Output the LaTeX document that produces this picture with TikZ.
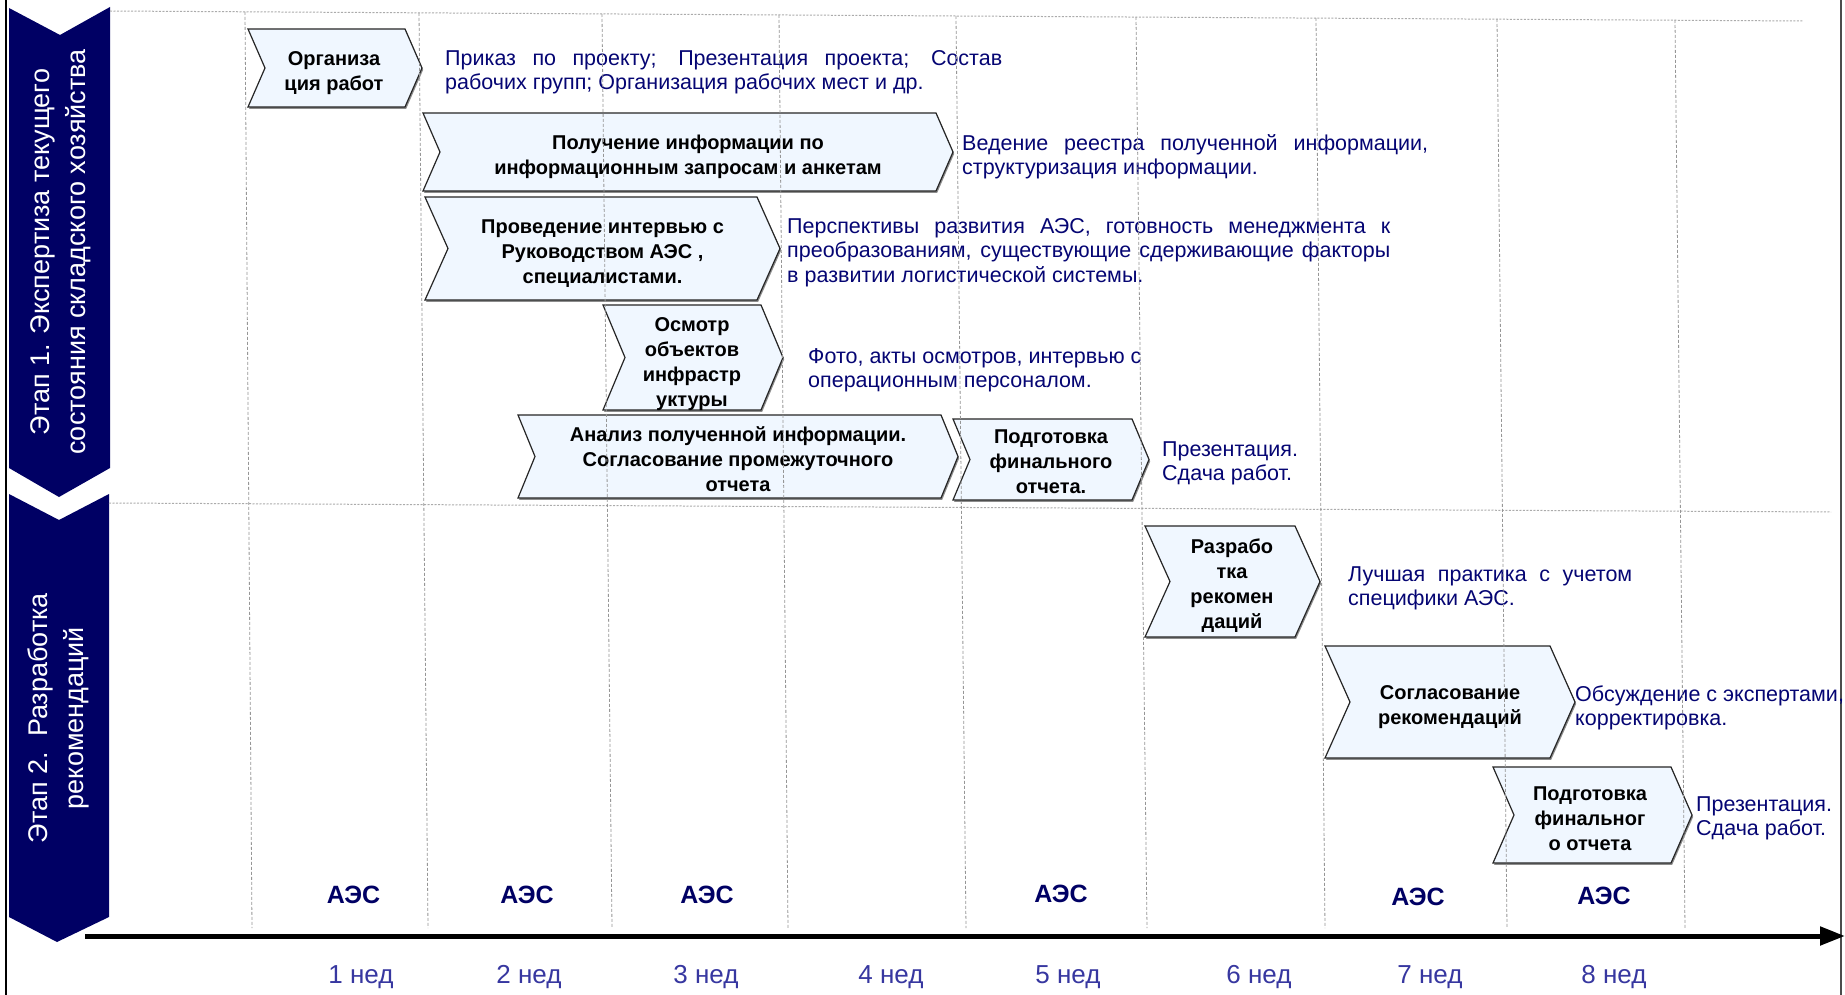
\documentclass[tikz,border=0pt]{standalone}
\usepackage{fontspec}
\setmainfont{Liberation Sans}
\usetikzlibrary{arrows.meta}
\definecolor{bannerblue}{RGB}{0,0,100}
\definecolor{desccol}{RGB}{5,5,115}
\definecolor{aescol}{RGB}{0,0,100}
\definecolor{weekcol}{RGB}{55,55,160}
\definecolor{boxfill}{RGB}{240,247,255}
\definecolor{gridcol}{RGB}{150,150,150}
\newcommand\chev[5]{% x1 x2 y1 y2 depth
  \fill[chevshadow] (#1,#3) -- (#2,#3) -- ({#2+#5},{(#3+#4)/2}) -- (#2,#4) -- (#1,#4) -- ({#1+#5},{(#3+#4)/2}) -- cycle;
  \draw[chev] (#1,#3) -- (#2,#3) -- ({#2+#5},{(#3+#4)/2}) -- (#2,#4) -- (#1,#4) -- ({#1+#5},{(#3+#4)/2}) -- cycle;}
\begin{document}
\begin{tikzpicture}[x=1pt,y=-1pt,
  chev/.style={draw=black!85, line width=1.2pt, fill=boxfill},
  chevshadow/.style={fill=black!45, shift={(1.2,1.8)}},
  boxtxt/.style={font=\fontsize{20}{25}\selectfont\bfseries, align=center, inner sep=0pt, anchor=north, text=black},
  desctxt/.style={font=\fontsize{21.5}{24.5}\selectfont, align=left, inner sep=0pt, anchor=north west, text=desccol},
  aes/.style={font=\fontsize{25}{28}\selectfont\bfseries, text=aescol, inner sep=0pt, anchor=base},
  week/.style={font=\fontsize{26}{30}\selectfont, text=weekcol, inner sep=0pt, anchor=base},
  gridv/.style={draw=gridcol, line width=0.8pt, dash pattern=on 3pt off 2pt},
  gridh/.style={draw=gridcol!80, line width=1pt, dash pattern=on 2pt off 1.5pt},
  banner/.style={fill=bannerblue},
  bannertxt/.style={font=\fontsize{27}{36}\selectfont, text=white, align=center, rotate=90, inner sep=0pt}
]
\useasboundingbox (0,0) rectangle (1845,995);
\fill[white] (0,0) rectangle (1845,995);
% frame
\draw[line width=2pt, black] (6,0) -- (6,995);
\draw[line width=1.5pt, black!70] (1841,0) -- (1841,995);
% stage banners
\fill[banner] (9,8) -- (60,35) -- (110,7) -- (110,468) -- (59,497) -- (9,468) -- cycle;
\node[bannertxt] (st1) at (61,252) {Этап 1. Экспертиза текущего\\состояния складского хозяйства};
\fill[banner] (9,494) -- (59,520) -- (109,494) -- (109,917) -- (57,942) -- (9,917) -- cycle;
\node[bannertxt] (st2) at (58,718) {Этап 2.\ \ Разработка\\рекомендаций};
% task chevrons
\chev{248}{405}{29}{107}{17}
\node[boxtxt] (b1) at (334,47.5) {\strut Организа\\\strut ция работ};
\chev{423}{936}{113}{191}{17}
\node[boxtxt] (b2) at (688,131.5) {\strut Получение информации по\\\strut информационным запросам и анкетам};
\chev{425}{757}{197}{300}{23}
\node[boxtxt] (b3) at (602.5,215.5) {\strut Проведение интервью с\\\strut Руководством АЭС ,\\\strut специалистами.};
\chev{603}{761}{305}{410}{22}
\node[boxtxt] (b4) at (692,313.5) {\strut Осмотр\\\strut объектов\\\strut инфрастр\\\strut уктуры};
\chev{518}{941}{415}{498}{17}
\node[boxtxt] (b5) at (738,423.5) {\strut Анализ полученной информации.\\\strut Согласование промежуточного\\\strut отчета};
\chev{953}{1132}{419}{500}{17}
\node[boxtxt] (b6) at (1051,425.5) {\strut Подготовка\\\strut финального\\\strut отчета.};
\chev{1145}{1295}{526}{637}{25}
\node[boxtxt] (b7) at (1232,535.5) {\strut Разрабо\\\strut тка\\\strut рекомен\\\strut даций};
\chev{1325}{1550}{646}{758}{25}
\node[boxtxt] (b8) at (1450,681.5) {\strut Согласование\\\strut рекомендаций};
\chev{1493}{1671}{767}{863}{21}
\node[boxtxt] (b9) at (1590,782.5) {\strut Подготовка\\\strut финальног\\\strut о отчета};
% descriptions
\node[desctxt] (d1) at (445,47.85) {\strut\makebox[557pt][s]{Приказ по проекту; Презентация проекта; Состав}\\\strut рабочих групп; Организация рабочих мест и др.};
\node[desctxt] (d2) at (962,132.85) {\strut\makebox[466pt][s]{Ведение реестра полученной информации,}\\\strut структуризация информации.};
\node[desctxt] (d3) at (787,215.85) {\strut\makebox[603pt][s]{Перспективы развития АЭС, готовность менеджмента к}\\\strut\makebox[603pt][s]{преобразованиям, существующие сдерживающие факторы}\\\strut в развитии логистической системы.};
\node[desctxt] (d4) at (808,345.85) {\strut Фото, акты осмотров, интервью с\\\strut операционным персоналом.};
\node[desctxt] (d6) at (1162,438.85) {\strut Презентация.\\\strut Сдача работ.};
\node[desctxt] (d7) at (1348,563.85) {\strut\makebox[284pt][s]{Лучшая практика с учетом}\\\strut специфики АЭС.};
\node[desctxt] (d8) at (1575,683.85) {\strut Обсуждение с экспертами,\\\strut корректировка.};
\node[desctxt] (d9) at (1696,793.85) {\strut Презентация.\\\strut Сдача работ.};
% grid
\draw[gridh] (110,11) -- (1803,21);
\draw[gridh] (109,503) -- (1831,512);
\foreach \xt/\yt/\xb in {245/12/252, 419/13/428, 602/14/612, 779/15/788, 956/16/966, 1136/17/1147, 1316/18/1325, 1497/19/1507, 1675/20/1685}
  {\draw[gridv] (\xt,\yt) -- (\xb,928);}
% axis
\coordinate (ax0) at (85,936);
\coordinate (ax1) at (1845,936);
\draw[line width=5pt, -{Triangle[length=25pt,width=18pt]}] (ax0) -- (ax1);
% AES labels
\node[aes] (a1) at (353.5,903) {АЭС};
\node[aes] (a2) at (527,903) {АЭС};
\node[aes] (a3) at (707,903) {АЭС};
\node[aes] (a5) at (1061,902) {АЭС};
\node[aes] (a7) at (1418,905) {АЭС};
\node[aes] (a8) at (1604,904) {АЭС};
% weeks
\node[week] (w1) at (361,983) {1 нед};
\node[week] (w2) at (529,983) {2 нед};
\node[week] (w3) at (706,983) {3 нед};
\node[week] (w4) at (891,983) {4 нед};
\node[week] (w5) at (1068,983) {5 нед};
\node[week] (w6) at (1259,983) {6 нед};
\node[week] (w7) at (1430,983) {7 нед};
\node[week] (w8) at (1614,983) {8 нед};
\end{tikzpicture}
\end{document}
